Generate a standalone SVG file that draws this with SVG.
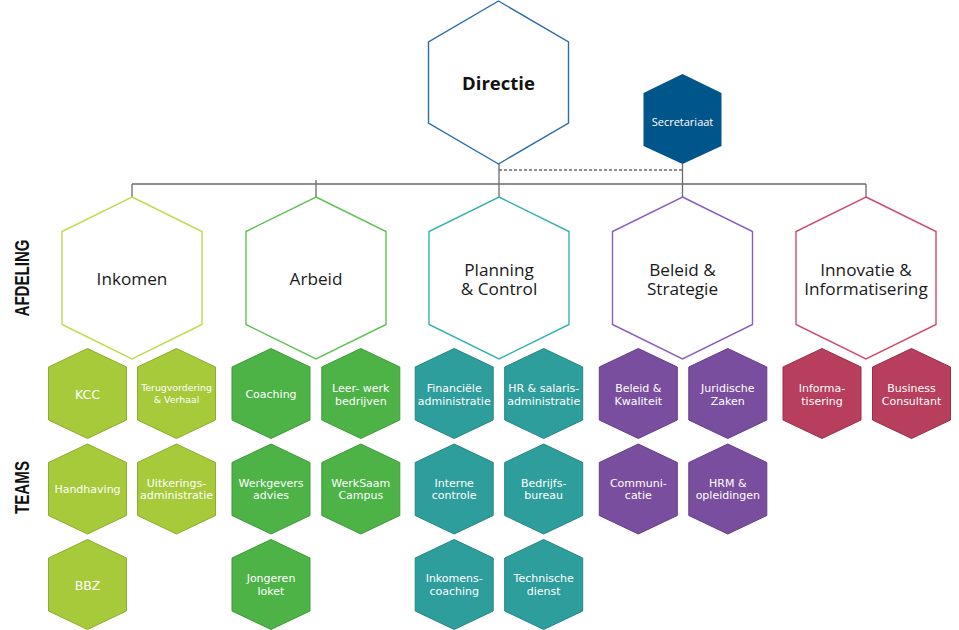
<svg xmlns="http://www.w3.org/2000/svg" xmlns:xlink="http://www.w3.org/1999/xlink" width="959" height="630" viewBox="0 0 959 630">
<style>
.conn{stroke:#6b6b6b;stroke-width:1.3;fill:none}
.dash{stroke:#6b6b6b;stroke-width:1.3;fill:none;stroke-dasharray:3 2}
.dept{fill:#ffffff;stroke-width:1.4}
.dlbl{font-family:"Open Sans","Noto Sans",sans-serif;font-size:17.2px;fill:#1a1a1a;text-anchor:middle}
.tlbl{font-family:"DejaVu Sans",Verdana,sans-serif;font-size:11px;fill:#ffffff;text-anchor:middle}
.big{font-size:12.5px}
.small{font-size:9.4px}
.side{font-family:"Liberation Sans",Arial,sans-serif;font-weight:bold;font-size:20px;fill:#111111;text-anchor:middle}
.ink{fill:#a6ca3a;stroke:#8cac2e;stroke-width:1}
.arb{fill:#4db347;stroke:#3f9a3a;stroke-width:1}
.pc{fill:#2e9e9c;stroke:#258583;stroke-width:1}
.bs{fill:#7a4e9f;stroke:#633e86;stroke-width:1}
.ii{fill:#b73e5c;stroke:#98304a;stroke-width:1}
</style>
<defs>
<polygon id="hexT" points="0,-45 39,-26.5 39,26.5 0,45 -39,26.5 -39,-26.5"/>
<polygon id="hexD" points="0,-81 70,-46.5 70,46.5 0,81 -70,46.5 -70,-46.5"/>
</defs>

<g id="connectors">
<line class="conn" x1="499" y1="164" x2="499" y2="197"/>
<line class="conn" x1="682.5" y1="164" x2="682.5" y2="197"/>
<line class="conn" x1="132" y1="184" x2="866" y2="184"/>
<line class="conn" x1="132" y1="184" x2="132" y2="197"/>
<line class="conn" x1="866" y1="184" x2="866" y2="197"/>
<line class="conn" x1="316" y1="180" x2="316" y2="197"/>
<line class="dash" x1="499" y1="170" x2="682.5" y2="170"/>
</g>

<g id="directie">
<polygon points="498.5,1 568.5,42 568.5,123 498.5,164 428.5,123 428.5,42" fill="#ffffff" stroke="#2c6ea7" stroke-width="1.4"/>
<text x="498.5" y="89.5" font-family="'Open Sans','Noto Sans',sans-serif" font-weight="bold" font-size="18.5" fill="#111111" text-anchor="middle">Directie</text>
</g>

<g id="secretariaat">
<polygon points="682.5,74 721.5,93 721.5,146 682.5,164 643.5,146 643.5,93" fill="#00558a"/>
<text x="682.5" y="126" font-family="'Open Sans','Noto Sans',sans-serif" font-size="11" fill="#ffffff" text-anchor="middle">Secretariaat</text>
</g>

<g id="label-afdeling"><text class="side" transform="translate(28.5,278) rotate(-90)" textLength="77" lengthAdjust="spacingAndGlyphs">AFDELING</text></g>
<g id="label-teams"><text class="side" transform="translate(28.5,487.5) rotate(-90)" textLength="53" lengthAdjust="spacingAndGlyphs">TEAMS</text></g>

<g id="dept-inkomen"><use xlink:href="#hexD" href="#hexD" x="132" y="278" class="dept" stroke="#bddc50"/><text class="dlbl" x="132" y="285">Inkomen</text></g>
<g id="dept-arbeid"><use xlink:href="#hexD" href="#hexD" x="316" y="278" class="dept" stroke="#5ec452"/><text class="dlbl" x="316" y="285">Arbeid</text></g>
<g id="dept-planning"><use xlink:href="#hexD" href="#hexD" x="499" y="278" class="dept" stroke="#35b1b0"/><text class="dlbl"><tspan x="499" y="275.5">Planning</tspan><tspan x="499" y="294.5">&amp; Control</tspan></text></g>
<g id="dept-beleid"><use xlink:href="#hexD" href="#hexD" x="682.5" y="278" class="dept" stroke="#8b5dbf"/><text class="dlbl"><tspan x="682.5" y="275.5">Beleid &amp;</tspan><tspan x="682.5" y="294.5">Strategie</tspan></text></g>
<g id="dept-innovatie"><use xlink:href="#hexD" href="#hexD" x="866" y="278" class="dept" stroke="#cf4c6e"/><text class="dlbl"><tspan x="866" y="275.5">Innovatie &amp;</tspan><tspan x="866" y="294.5">Informatisering</tspan></text></g>

<g id="team-kcc"><use href="#hexT" x="87.5" y="393.5" class="ink"/><text class="tlbl big" x="87.5" y="398.5">KCC</text></g>
<g id="team-terugvordering"><use href="#hexT" x="176.5" y="393.5" class="ink"/><text class="tlbl small" x="176.5" y="391">Terugvordering</text><text class="tlbl small" x="176.5" y="403.4">&amp; Verhaal</text></g>
<g id="team-handhaving"><use href="#hexT" x="87.5" y="489" class="ink"/><text class="tlbl" x="87.5" y="492.5">Handhaving</text></g>
<g id="team-uitkeringsadministratie"><use href="#hexT" x="176.5" y="489" class="ink"/><text class="tlbl" x="176.5" y="486.5">Uitkerings-</text><text class="tlbl" x="176.5" y="499">administratie</text></g>
<g id="team-bbz"><use href="#hexT" x="87.5" y="584.5" class="ink"/><text class="tlbl big" x="87.5" y="589.5">BBZ</text></g>

<g id="team-coaching"><use href="#hexT" x="271" y="393.5" class="arb"/><text class="tlbl" x="271" y="398">Coaching</text></g>
<g id="team-leerwerk"><use href="#hexT" x="360.8" y="393.5" class="arb"/><text class="tlbl" x="360.8" y="392">Leer- werk</text><text class="tlbl" x="360.8" y="404.7">bedrijven</text></g>
<g id="team-werkgevers"><use href="#hexT" x="271" y="489" class="arb"/><text class="tlbl" x="271" y="486.5">Werkgevers</text><text class="tlbl" x="271" y="499.2">advies</text></g>
<g id="team-werksaam"><use href="#hexT" x="360.8" y="489" class="arb"/><text class="tlbl" x="360.8" y="486.5">WerkSaam</text><text class="tlbl" x="360.8" y="499.2">Campus</text></g>
<g id="team-jongeren"><use href="#hexT" x="271" y="584.5" class="arb"/><text class="tlbl" x="271" y="582">Jongeren</text><text class="tlbl" x="271" y="594.7">loket</text></g>

<g id="team-financiele"><use href="#hexT" x="454.2" y="393.5" class="pc"/><text class="tlbl" x="454.2" y="392">Financiële</text><text class="tlbl" x="454.2" y="404.7">administratie</text></g>
<g id="team-hr"><use href="#hexT" x="543.7" y="393.5" class="pc"/><text class="tlbl" x="543.7" y="392">HR &amp; salaris-</text><text class="tlbl" x="543.7" y="404.7">administratie</text></g>
<g id="team-interne"><use href="#hexT" x="454.2" y="489" class="pc"/><text class="tlbl" x="454.2" y="486.5">Interne</text><text class="tlbl" x="454.2" y="499.2">controle</text></g>
<g id="team-bedrijfsbureau"><use href="#hexT" x="543.7" y="489" class="pc"/><text class="tlbl" x="543.7" y="486.5">Bedrijfs-</text><text class="tlbl" x="543.7" y="499.2">bureau</text></g>
<g id="team-inkomenscoaching"><use href="#hexT" x="454.2" y="584.5" class="pc"/><text class="tlbl" x="454.2" y="582">Inkomens-</text><text class="tlbl" x="454.2" y="594.7">coaching</text></g>
<g id="team-technische"><use href="#hexT" x="543.7" y="584.5" class="pc"/><text class="tlbl" x="543.7" y="582">Technische</text><text class="tlbl" x="543.7" y="594.7">dienst</text></g>

<g id="team-beleidkwaliteit"><use href="#hexT" x="638.3" y="393.5" class="bs"/><text class="tlbl" x="638.3" y="392">Beleid &amp;</text><text class="tlbl" x="638.3" y="404.7">Kwaliteit</text></g>
<g id="team-juridische"><use href="#hexT" x="727.8" y="393.5" class="bs"/><text class="tlbl" x="727.8" y="392">Juridische</text><text class="tlbl" x="727.8" y="404.7">Zaken</text></g>
<g id="team-communicatie"><use href="#hexT" x="638.3" y="489" class="bs"/><text class="tlbl" x="638.3" y="486.5">Communi-</text><text class="tlbl" x="638.3" y="499.2">catie</text></g>
<g id="team-hrm"><use href="#hexT" x="727.8" y="489" class="bs"/><text class="tlbl" x="727.8" y="486.5">HRM &amp;</text><text class="tlbl" x="727.8" y="499.2">opleidingen</text></g>

<g id="team-informatisering"><use href="#hexT" x="822" y="393.5" class="ii"/><text class="tlbl" x="822" y="392">Informa-</text><text class="tlbl" x="822" y="404.7">tisering</text></g>
<g id="team-business"><use href="#hexT" x="911.5" y="393.5" class="ii"/><text class="tlbl" x="911.5" y="392">Business</text><text class="tlbl" x="911.5" y="404.7">Consultant</text></g>
</svg>
